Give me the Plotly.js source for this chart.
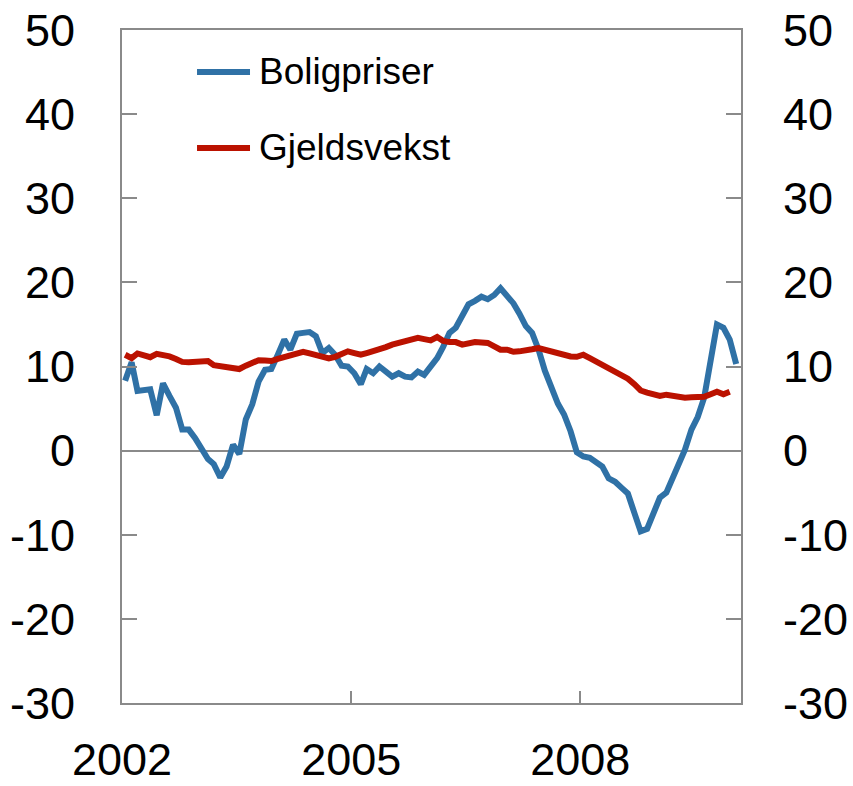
<!DOCTYPE html>
<html>
<head>
<meta charset="utf-8">
<script src="https://cdn.plot.ly/plotly-3.0.1.min.js"></script>
<style>
html,body{margin:0;padding:0;background:#fff;}
#chart{width:853px;height:786px;}
</style>
</head>
<body>
<div id="chart"></div>
<script>
// Monthly data, Jan 2002 onward
var startYear = 2002;
var boligpriser = [
  8.3, 10.5, 7.1, 7.2, 7.3, 4.2, 8.0, 6.5, 5.1, 2.5, 2.5, 1.5,
  0.2, -1.0, -1.6, -3.2, -1.9, 0.7, -0.4, 3.7, 5.5, 8.2, 9.6, 9.7,
  11.4, 13.2, 12.0, 13.9, 14.0, 14.1, 13.6, 11.6, 12.2, 11.4, 10.1, 10.0,
  9.2, 7.9, 9.7, 9.2, 10.0, 9.4, 8.8, 9.2, 8.8, 8.7, 9.4, 9.0,
  10.0, 11.0, 12.3, 14.0, 14.6, 16.0, 17.4, 17.8, 18.3, 18.0, 18.5, 19.3,
  18.5, 17.5, 16.3, 14.8, 14.0, 12.0, 9.5, 7.5, 5.6, 4.3, 2.3, -0.2,
  -0.7, -0.85, -1.4, -1.9, -3.3, -3.7, -4.4, -5.1, -7.4, -9.6, -9.3, -7.6,
  -5.6, -5.0, -3.4, -1.8, 0.1, 2.5, 4.0, 6.3, 10.3, 15.0, 14.6, 13.2,
  10.3
];
var gjeldsvekst = [
  11.4, 11.0, 11.55, 11.35, 11.1, 11.5, 11.4, 11.2, 10.9, 10.55, 10.5, 10.5,
  10.5, 10.65, 10.15, 10.0, 9.85, 9.75, 9.7, 10.1, 10.5, 10.75, 10.7, 10.65,
  10.9, 11.15, 11.35, 11.55, 11.75, 11.55, 11.35, 11.0, 10.95, 11.15, 11.4, 11.8,
  11.6, 11.4, 11.6, 11.8, 12.0, 12.3, 12.6, 12.8, 13.0, 13.2, 13.4, 13.25,
  13.1, 13.5, 13.05, 12.9, 12.9, 12.6, 12.75, 12.9, 12.85, 12.8, 12.4, 12.0,
  12.0, 11.75, 11.8, 12.0, 12.05, 12.2, 12.0, 11.7, 11.5, 11.3, 11.2, 11.15,
  11.4, 11.0, 10.6, 10.2, 9.8, 9.35, 9.0, 8.55, 7.9, 7.15, 6.9, 6.75,
  6.5, 6.65, 6.55, 6.3, 6.3, 6.35, 6.3, 6.4, 6.7, 7.0, 6.7, 7.0
];
var seriesNames = ['Boligpriser', 'Gjeldsvekst'];
var yTickVals = [-30, -20, -10, 0, 10, 20, 30, 40, 50];
var yTickText = ['-30', '-20', '-10', '0', '10', '20', '30', '40', '50'];
var xTickVals = ['2002-01-01', '2005-01-01', '2008-01-01'];
var xTickText = ['2002', '2005', '2008'];

function monthDates(n) {
  var out = [];
  for (var k = 0; k < n; k++) {
    var y = startYear + Math.floor(k / 12);
    var m = (k % 12) + 1;
    out.push(y + '-' + (m < 10 ? '0' + m : m) + '-16');
  }
  return out;
}

var BLUE = '#2f71a6';
var RED = '#bb1200';
var GRAY = '#8a8a8a';
var FONT = 'Liberation Sans, Arial, sans-serif';

var traces = [
  {x: monthDates(boligpriser.length), y: boligpriser, name: seriesNames[0], type: 'scatter', mode: 'lines',
   line: {color: BLUE, width: 6}, hoverinfo: 'skip'},
  {x: monthDates(gjeldsvekst.length), y: gjeldsvekst, name: seriesNames[1], type: 'scatter', mode: 'lines',
   line: {color: RED, width: 6}, hoverinfo: 'skip'}
];

var yCommon = {
  range: [-30, 50], tickmode: 'array', tickvals: yTickVals, ticktext: yTickText,
  ticks: 'inside', ticklen: 15, tickwidth: 2, tickcolor: GRAY,
  showgrid: false, showline: true, linecolor: GRAY, linewidth: 2,
  tickfont: {family: FONT, size: 45, color: '#000'},
  fixedrange: true
};

var layout = {
  width: 853, height: 786,
  margin: {l: 122, r: 112, t: 30, b: 83, pad: 0},
  paper_bgcolor: '#fff', plot_bgcolor: '#fff',
  showlegend: false,
  xaxis: {
    type: 'date', range: ['2002-01-01', '2010-02-08'],
    tickmode: 'array', tickvals: xTickVals, ticktext: xTickText,
    ticks: 'inside', ticklen: 12, tickwidth: 2, tickcolor: GRAY,
    showgrid: false, showline: true, mirror: true, linecolor: GRAY, linewidth: 2,
    tickfont: {family: FONT, size: 45, color: '#000'},
    ticklabelstandoff: 16, zeroline: false, fixedrange: true
  },
  yaxis: Object.assign({}, yCommon, {side: 'left', ticklabelstandoff: 36, zeroline: true, zerolinecolor: GRAY, zerolinewidth: 2}),
  yaxis2: Object.assign({}, yCommon, {side: 'right', ticklabelstandoff: 31, overlaying: 'y', zeroline: false}),
  shapes: [
    {type: 'line', xref: 'paper', yref: 'paper', x0: 0.1212, x1: 0.2068, y0: 0.9376, y1: 0.9376,
     line: {color: BLUE, width: 6}},
    {type: 'line', xref: 'paper', yref: 'paper', x0: 0.1212, x1: 0.2068, y0: 0.8247, y1: 0.8247,
     line: {color: RED, width: 6}}
  ],
  annotations: [
    {xref: 'paper', yref: 'paper', x: 0.218, y: 0.9376, xanchor: 'left', yanchor: 'middle',
     text: seriesNames[0], showarrow: false, font: {family: FONT, size: 37, color: '#000'}},
    {xref: 'paper', yref: 'paper', x: 0.218, y: 0.8247, xanchor: 'left', yanchor: 'middle',
     text: seriesNames[1], showarrow: false, font: {family: FONT, size: 37, color: '#000'}}
  ]
};

traces.push({x: [], y: [], yaxis: 'y2', type: 'scatter', mode: 'lines', showlegend: false, hoverinfo: 'skip'});

Plotly.newPlot('chart', traces, layout, {staticPlot: true, displayModeBar: false});
</script>
</body>
</html>
